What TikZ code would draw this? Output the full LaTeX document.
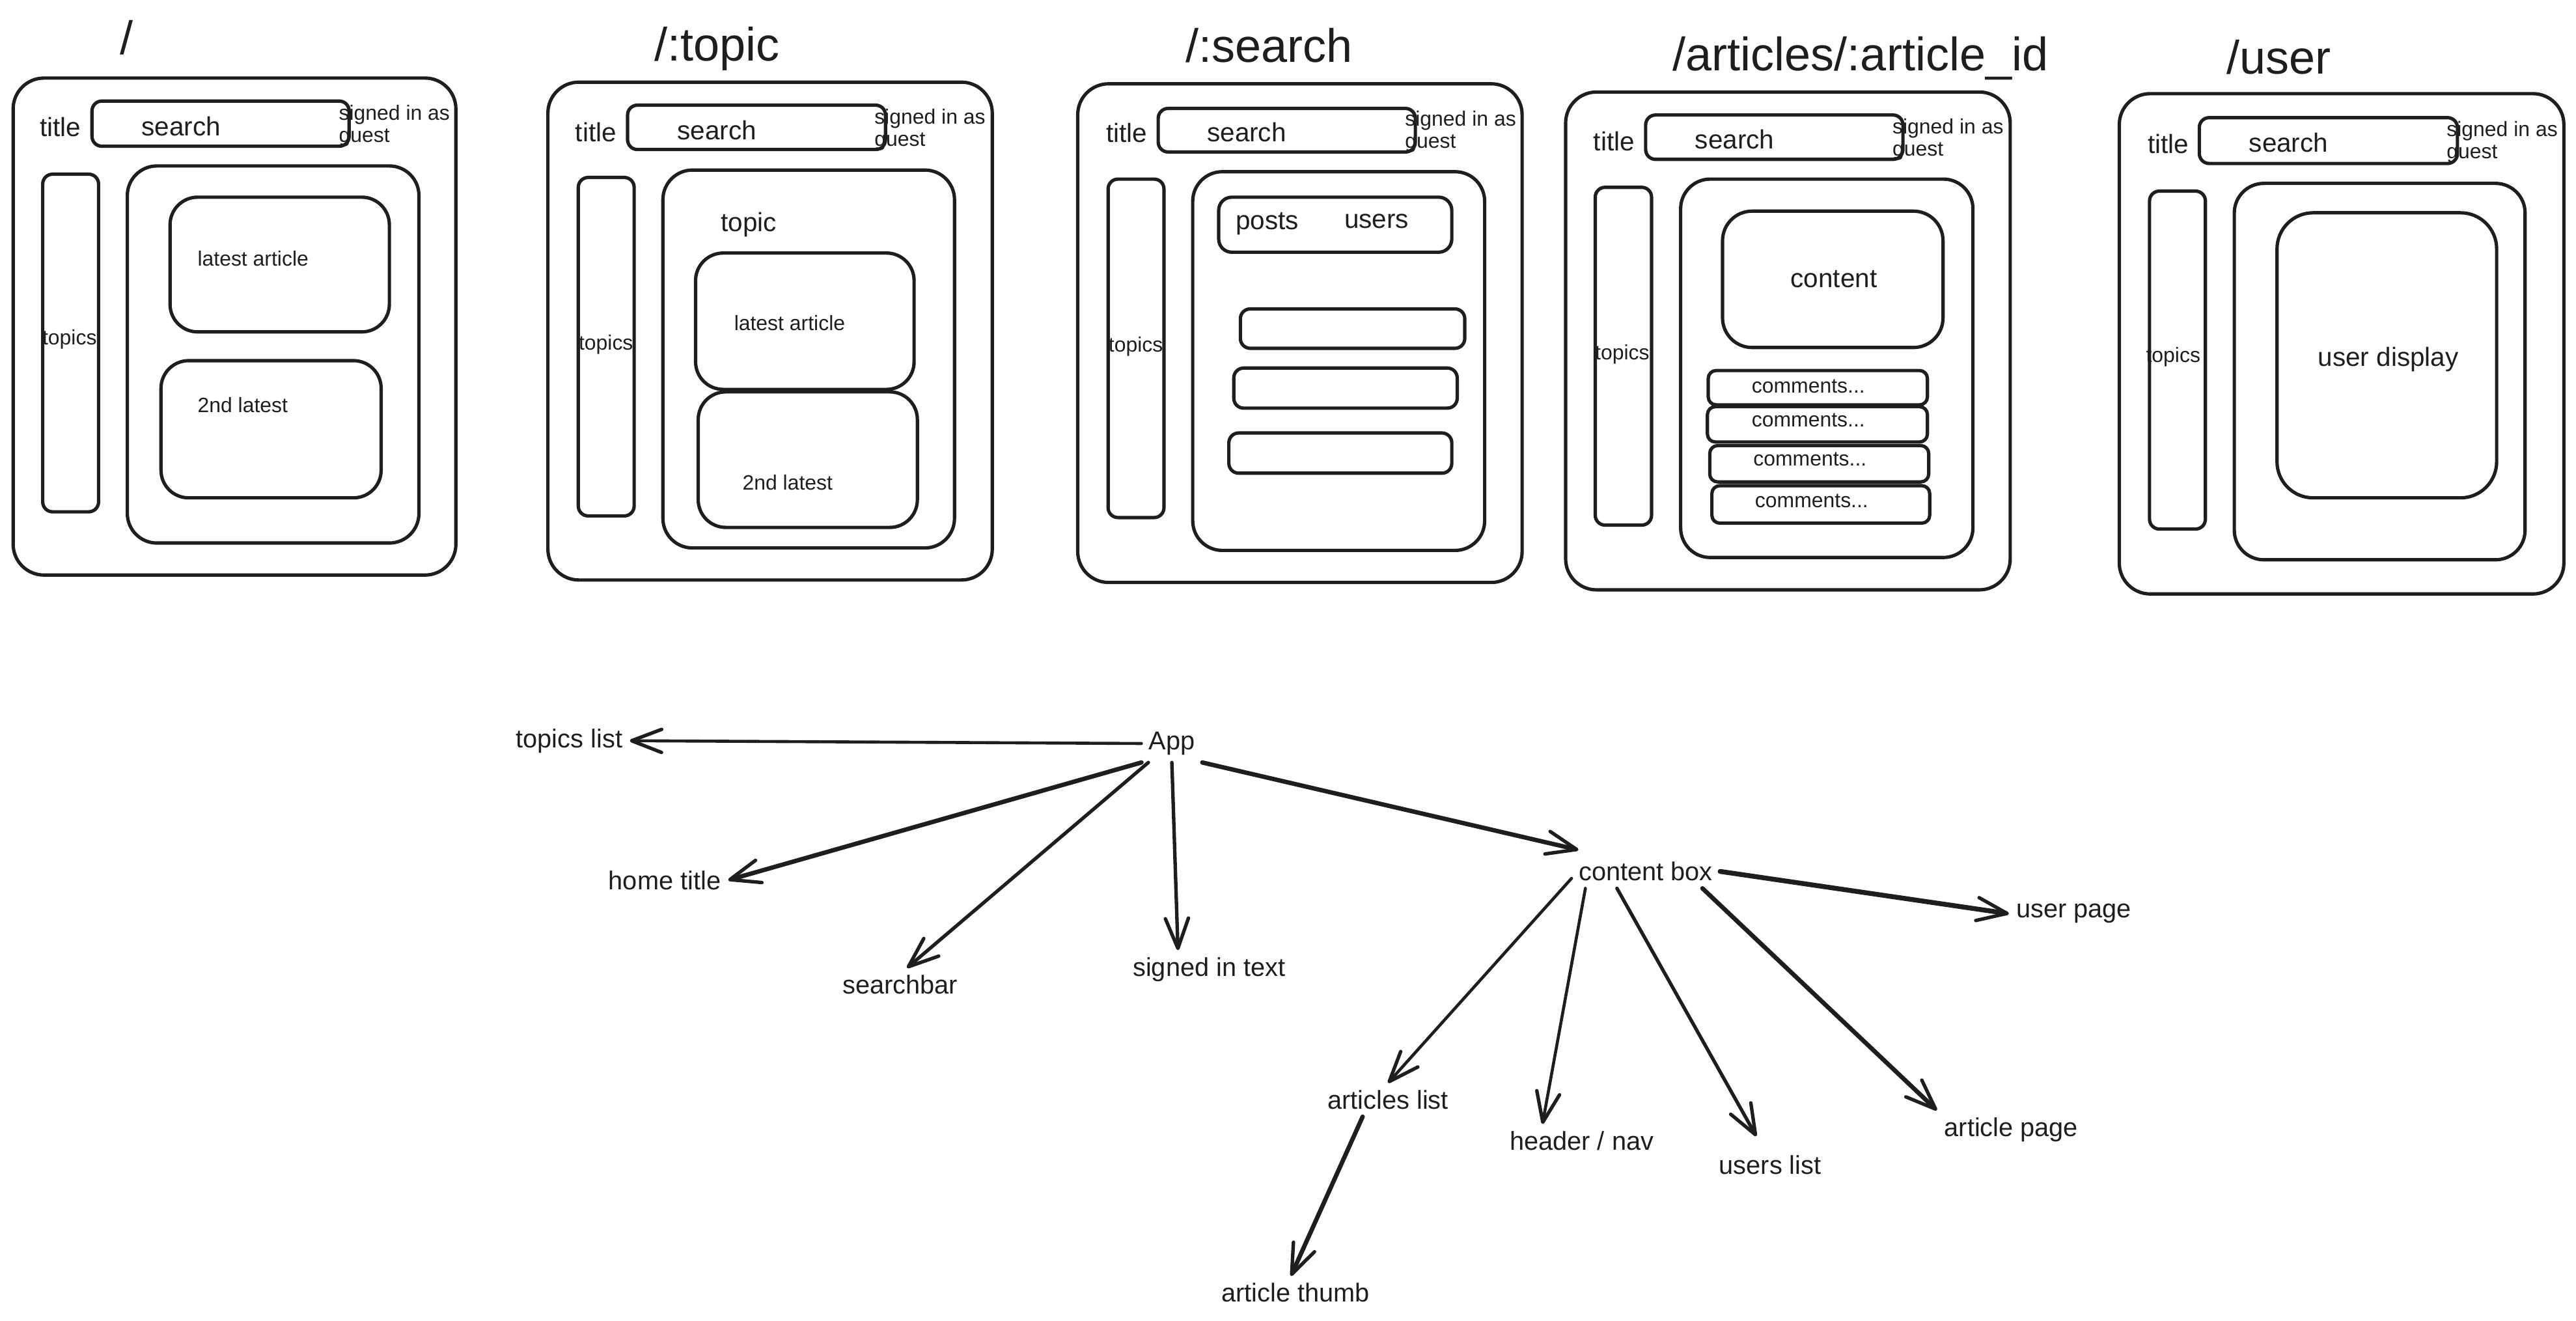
\documentclass[tikz,border=0pt]{standalone}
\usepackage{fontspec}
\setmainfont{Liberation Sans}
\usetikzlibrary{arrows.meta}
\definecolor{ink}{HTML}{1E1E1E}
\newcommand\signedtxt{\vtop{\hbox{signed in as}\hbox{guest}}}
\begin{document}
\begin{tikzpicture}[x=0.025cm,y=-0.025cm,
  every node/.style={text=ink},
  wbox/.style={draw=ink,line width=1.45pt,line join=round,rounded corners=#1},
  wbox/.default=0.15cm,
  head/.style={anchor=base west,inner sep=0pt,font=\fontsize{20.3}{24}\selectfont},
  big/.style={anchor=base west,inner sep=0pt,font=\fontsize{11.4}{13.7}\selectfont},
  small/.style={anchor=base west,inner sep=0pt,font=\fontsize{9}{9.6}\selectfont},
  lbl/.style={anchor=base,inner sep=3pt,font=\fontsize{11.2}{13.4}\selectfont},
  arr/.style={draw=ink,line width=#1,line cap=round,-{Straight Barb[length=13pt,width=10pt,line width=1.5pt,round]}},
  arr/.default=1.3pt]
\useasboundingbox (0,0) rectangle (1568,804);

% ---------- wireframe 1: /
\node[head,anchor=base] (h1) at (77,33) {/};
\draw[wbox=0.47cm] (8,47.5) rectangle (277.5,350);
\node[big] (t1) at (24,83) {title};
\draw[wbox] (56,61.5) rectangle (212.5,89);
\node[big] (s1) at (86,82.5) {search};
\node[small] (g1) at (206,73) {\signedtxt};
\draw[wbox] (26,106) rectangle (60,311.5);
\node[small] (p1) at (25.5,210) {topics};
\draw[wbox=0.45cm] (77.5,101) rectangle (255,330.5);
\draw[wbox=0.42cm] (103.5,120) rectangle (237,202);
\node[small] (la1) at (120,162) {latest article};
\draw[wbox=0.42cm] (98,219.5) rectangle (232,303);
\node[small] (nd1) at (120,251) {2nd latest};

% ---------- wireframe 2: /:topic
\node[head] (h2) at (398,37) {/:topic};
\draw[wbox=0.47cm] (333.5,50) rectangle (604,353);
\node[big] (t2) at (350,86) {title};
\draw[wbox] (382,64) rectangle (539,91);
\node[big] (s2) at (412,85) {search};
\node[small] (g2) at (532,75.5) {\signedtxt};
\draw[wbox] (352,108) rectangle (386,314);
\node[small] (p2) at (352,213) {topics};
\draw[wbox=0.45cm] (403.5,103.5) rectangle (581,333.5);
\node[big] (tp2) at (438.6,141) {topic};
\draw[wbox=0.42cm] (423.4,154) rectangle (556.4,237);
\node[small] (la2) at (446.6,201) {latest article};
\draw[wbox=0.42cm] (425,238.5) rectangle (558.4,321);
\node[small] (nd2) at (451.7,298) {2nd latest};

% ---------- wireframe 3: /:search
\node[head] (h3) at (721.5,38) {/:search};
\draw[wbox=0.47cm] (656,51) rectangle (926.5,354.5);
\node[big] (t3) at (673,86.5) {title};
\draw[wbox] (705,66) rectangle (861.5,92.5);
\node[big] (s3) at (734.5,86) {search};
\node[small] (g3) at (855,76.7) {\signedtxt};
\draw[wbox] (674.5,109) rectangle (708.5,315);
\node[small] (p3) at (674.5,214) {topics};
\draw[wbox=0.45cm] (726,104.5) rectangle (903.7,335);
\draw[wbox=0.2cm] (741.8,120) rectangle (883.7,153.5);
\node[big] (po3) at (752,139.5) {posts};
\node[big] (us3) at (818,139) {users};
\draw[wbox] (755,188) rectangle (891.6,212);
\draw[wbox] (751,224) rectangle (887,248.4);
\draw[wbox] (748,263.5) rectangle (883.7,288);

% ---------- wireframe 4: /articles/:article_id
\node[head] (h4) at (1018,43) {/articles/:article\_id};
\draw[wbox=0.47cm] (953,56) rectangle (1223.6,359);
\node[big] (t4) at (969.7,91.8) {title};
\draw[wbox] (1001.7,70) rectangle (1158.3,97);
\node[big] (s4) at (1031.5,90.6) {search};
\node[small] (g4) at (1151.7,81.4) {\signedtxt};
\draw[wbox] (971,114) rectangle (1005.3,319.6);
\node[small] (p4) at (970.6,219) {topics};
\draw[wbox=0.45cm] (1023,109) rectangle (1200.9,339.3);
\draw[wbox=0.45cm] (1048.5,128.5) rectangle (1182.7,211.5);
\node[big] (ct4) at (1089.7,174.8) {content};
\draw[wbox=0.12cm] (1039.8,225.5) rectangle (1173.2,246.4);
\node[small] (c41) at (1066,239) {comments...};
\draw[wbox=0.12cm] (1039.3,247.5) rectangle (1173.2,269);
\node[small] (c42) at (1066,259.8) {comments...};
\draw[wbox=0.12cm] (1040.7,271.2) rectangle (1174,293.3);
\node[small] (c43) at (1067,283.5) {comments...};
\draw[wbox=0.12cm] (1042,295.6) rectangle (1174.6,318.4);
\node[small] (c44) at (1068,308.7) {comments...};

% ---------- wireframe 5: /user
\node[head] (h5) at (1355,45) {/user};
\draw[wbox=0.47cm] (1290,57) rectangle (1560.6,361.5);
\node[big] (t5) at (1307,93.5) {title};
\draw[wbox] (1338.7,71.6) rectangle (1495.8,99.5);
\node[big] (s5) at (1368.7,92.6) {search};
\node[small] (g5) at (1489,83) {\signedtxt};
\draw[wbox] (1308.4,116.3) rectangle (1342.4,322);
\node[small] (p5) at (1306,220.4) {topics};
\draw[wbox=0.45cm] (1360,111.6) rectangle (1537,340.7);
\draw[wbox=0.55cm] (1386,129.5) rectangle (1519.7,303);
\node[big] (ud5) at (1410.7,222.7) {user display};

% ---------- component tree
\node[lbl] (app) at (713.3,456.3) {App};
\node[lbl] (tl) at (346.5,454.9) {topics list};
\node[lbl] (ht) at (404.6,541.3) {home title};
\node[lbl] (sb) at (547.9,605) {searchbar};
\node[lbl] (st) at (736,594.2) {signed in text};
\node[lbl] (cb) at (1001.8,536) {content box};
\node[lbl] (up) at (1262.3,558.7) {user page};
\node[lbl] (al) at (844.9,675) {articles list};
\node[lbl] (hn) at (962.8,700) {header / nav};
\node[lbl] (ul) at (1077.5,714.5) {users list};
\node[lbl] (ap) at (1224.2,691.7) {article page};
\node[lbl] (at) at (788.6,792.5) {article thumb};

\draw[arr] (app.west) -- (tl.east);
\draw[arr=1.9pt] (app.south west) -- (ht.east);
\draw[arr=1.5pt] ([xshift=3pt]app.south west) -- ([xshift=3pt]sb.north);
\draw[arr=1.5pt] (app.south) -- ([xshift=-13.5pt]st.north);
\draw[arr=1.9pt] (app.south east) -- ([xshift=3pt,yshift=2pt]cb.north west);
\draw[arr=2.1pt] (cb.east) -- (up.west);
\draw[arr] ([yshift=-3pt]cb.west) -- (al.north);
\draw[arr] ([xshift=6pt]cb.south west) -- ([xshift=-17pt]hn.north);
\draw[arr=1.5pt] ([xshift=-12.5pt]cb.south) -- ([xshift=-6pt,yshift=5pt]ul.north);
\draw[arr=1.9pt] ([xshift=24.5pt]cb.south) -- (ap.north west);
\draw[arr=1.9pt] ([xshift=-11pt]al.south) -- ([xshift=-2pt]at.north);
\end{tikzpicture}
\end{document}
